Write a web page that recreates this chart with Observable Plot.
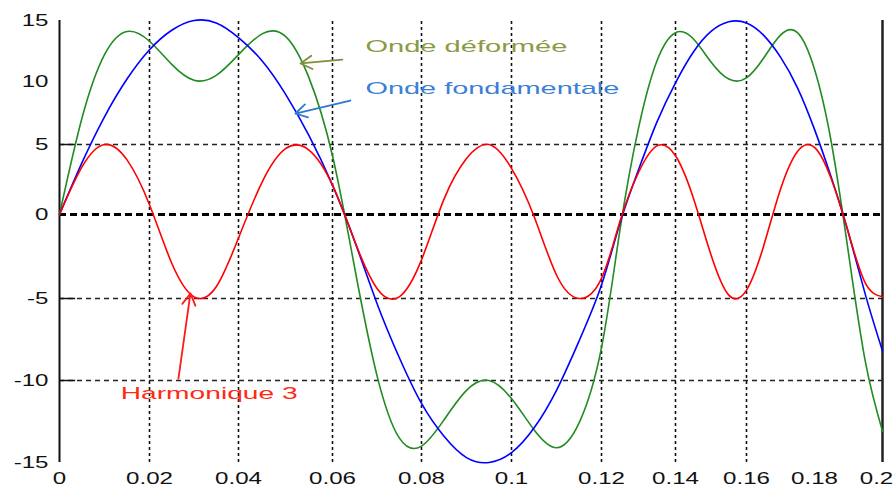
<!DOCTYPE html>
<html><head><meta charset="utf-8">
<script src="https://cdn.jsdelivr.net/npm/d3@7"></script>
<script src="https://cdn.jsdelivr.net/npm/@observablehq/plot@0.6"></script>
<style>html,body{margin:0;padding:0;background:#fff;overflow:hidden}</style>
</head><body><div id="chart"></div>
<script>
// time samples (s)
const t = [0,0.005,0.01,0.015,0.02,0.025,0.03,0.035,0.04,0.045,0.05,0.055,0.06,0.065,0.07,0.075,0.08,0.085,0.09,0.095,0.1,0.105,0.11,0.115,0.12,0.125,0.13,0.135,0.14,0.145,0.15,0.155,0.16,0.165,0.17,0.175,0.18,0.185,0.19,0.195,0.2];
// Onde fondamentale
const fundamental = [0,3.7,7.2,10.2,12.6,14.2,15.0,14.8,13.6,11.7,9.0,5.7,2.1,-1.6,-5.3,-8.6,-11.4,-13.4,-14.7,-15.0,-14.4,-12.9,-10.6,-7.6,-4.2,-0.5,3.2,6.8,9.9,12.4,14.1,14.9,14.8,13.8,12.0,9.5,6.2,2.6,-1.1,-4.8,-8.2];
// Harmonique 3
const harmonic = [0,3.4,5.0,3.9,0.7,-2.9,-4.9,-4.3,-1.4,2.3,4.7,4.6,2.1,-1.6,-4.4,-4.9,-2.7,1.1,4.0,5.0,3.3,-0.1,-3.6,-5.0,-3.8,-0.4,3.0,4.9,4.2,1.2,-2.4,-4.8,-4.5,-1.9,1.8,4.5,4.8,2.5,-1.1,-4.1,-4.9];
// Onde déformée
const distorted = [0,7.1,12.2,14.1,13.3,11.4,10.1,10.5,12.2,13.9,13.7,10.3,4.2,-3.2,-9.7,-13.5,-14.0,-12.4,-10.6,-10.0,-11.1,-13.0,-14.1,-12.6,-8.0,-0.9,6.3,11.7,14.0,13.5,11.6,10.2,10.3,11.9,13.8,14.0,11.0,5.1,-2.3,-8.9,-13.1];

const xTicks = [0,0.02,0.04,0.06,0.08,0.1,0.12,0.14,0.16,0.18,0.2];
const xTickLabels = ["0","0.02","0.04","0.06","0.08","0.1","0.12","0.14","0.16","0.18","0.2"];
const yTicks = [-15,-10,-5,0,5,10,15];
const yTickLabels = ["-15","-10","-5","0","5","10","15"];
const xGrid = [0.02,0.04,0.06,0.08,0.1,0.12,0.14,0.16];
const yGrid = [-10,-5,5];
const labels = ["Onde déformée","Onde fondamentale","Harmonique 3"];

const rows = (ys) => t.map((x, i) => ({x, y: ys[i]}));

const annos = [
  {label: labels[0], x: 0.0674, y: 12.8, color: "#8c9a44", width: 202,
   arrow: {x1: 0.0622, y1: 11.8, x2: 0.0532, y2: 11.48}, acolor: "#7d8f3c"},
  {label: labels[1], x: 0.0674, y: 9.45, color: "#3c7fd6", width: 254,
   arrow: {x1: 0.0640, y1: 8.49, x2: 0.0521, y2: 7.46}, acolor: "#2f78d0"},
  {label: labels[2], x: 0.0136, y: -10.8, color: "#ff2a14", width: 177,
   arrow: {x1: 0.0265, y1: -9.88, x2: 0.0292, y2: -4.70}, acolor: "#ff1a1a"}
];

const plot = Plot.plot({
  width: 895,
  height: 487,
  margin: 0,
  style: {fontFamily: "'Liberation Sans', Arial, sans-serif", fontSize: "17px", background: "#fff", overflow: "visible"},
  x: {type: "linear", domain: xTicks, range: [59,149,238,332,421,511,601,675,746,814,882], axis: null},
  y: {type: "linear", domain: yTicks, range: [462,380,298,214,144,81,20], axis: null},
  marks: [
    Plot.ruleX(xGrid, {x: d => d, y1: -15, y2: 15, stroke: "#111", strokeWidth: 1.6, strokeDasharray: "3,3"}),
    Plot.ruleY(yGrid, {y: d => d, x1: 0, x2: 0.2, stroke: "#222", strokeWidth: 1.3, strokeDasharray: "5,4"}),
    Plot.ruleY(yGrid, {y: d => d, x1: 0, x2: 0.0036, stroke: "#111", strokeWidth: 1.5}),
    Plot.ruleY([0], {x1: 0, x2: 0.2, stroke: "#000", strokeWidth: 3, strokeDasharray: "7,4"}),
    Plot.ruleX([0], {y1: -15, y2: 15, stroke: "#111", strokeWidth: 2}),
    Plot.ruleX([0.2], {y1: -15, y2: 15, stroke: "#222", strokeWidth: 2.5}),
    Plot.line(rows(distorted), {x: "x", y: "y", stroke: "#228b22", strokeWidth: 1.6, curve: "natural"}),
    Plot.line(rows(fundamental), {x: "x", y: "y", stroke: "#0000ff", strokeWidth: 1.6, curve: "natural"}),
    Plot.line(rows(harmonic), {x: "x", y: "y", stroke: "#ff0000", strokeWidth: 1.6, curve: "natural"}),
    Plot.text(yTicks, {x: 0, y: d => d, text: (d, i) => yTickLabels[i], dx: -11, textAnchor: "end", lineAnchor: "middle", fill: "#111"}),
    Plot.text(xTicks, {x: d => d, y: -15, dy: 16, text: (d, i) => xTickLabels[i], textAnchor: "middle", lineAnchor: "middle", fill: "#111"}),
    ...annos.map((a) => Plot.text([a], {x: "x", y: "y", text: "label", textAnchor: "start", lineAnchor: "middle", fill: a.color, fontSize: 16})),
    ...annos.map(a => Plot.arrow([a.arrow], {x1: "x1", y1: "y1", x2: "x2", y2: "y2", stroke: a.acolor, strokeWidth: 1.8, headLength: 11}))
  ]
});
document.getElementById("chart").appendChild(plot);

// horizontal stretch of a text around its anchor point (keeps y / dy offsets)
function stretch(el, s, shift = 0) {
  const xa = el.getAttribute("x");
  const x = xa && !/em$/.test(xa) ? +xa : 0;
  if (xa && !/em$/.test(xa)) el.removeAttribute("x");
  const tr = el.getAttribute("transform") || "";
  el.setAttribute("transform", `${tr} translate(${x + shift},0) scale(${s},1)`);
}
// text mark groups in mark order: y tick labels, x tick labels, then the three annotations
const groups = [...plot.querySelectorAll("g")].filter(g => g.querySelector(":scope > text"));
groups[0].querySelectorAll("text").forEach(el => stretch(el, 1.42));
const xl = [...groups[1].querySelectorAll("text")];
xl.forEach((el, i) => stretch(el, 1.42, i === xl.length - 1 ? -6 : 0));
annos.forEach((a, k) => {
  const g = groups[2 + k];
  if (!g) return;
  g.querySelectorAll("text").forEach(el => {
    const w = el.getComputedTextLength();
    stretch(el, a.width / w);
  });
});
</script>
</body></html>
